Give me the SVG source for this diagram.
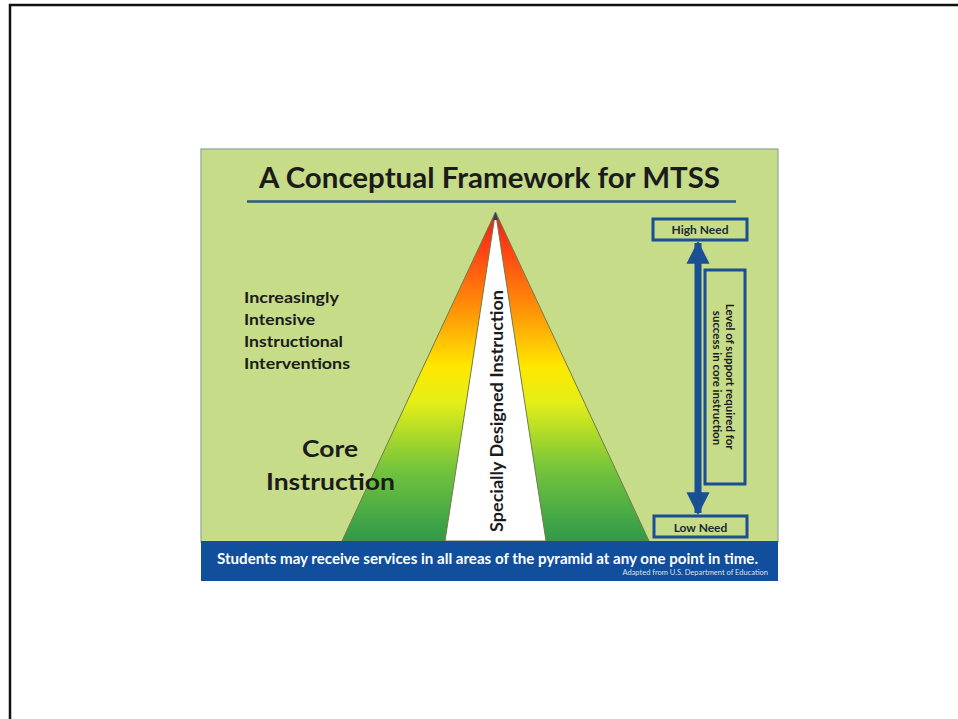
<svg xmlns="http://www.w3.org/2000/svg" width="958" height="719" viewBox="0 0 958 719">
  <defs>
    <linearGradient id="tierFill" gradientUnits="userSpaceOnUse" x1="0" y1="212" x2="0" y2="541">
      <stop offset="0" stop-color="#e61e1a"/>
      <stop offset="0.12" stop-color="#ff4513"/>
      <stop offset="0.3" stop-color="#ff9408"/>
      <stop offset="0.47" stop-color="#ffe800"/>
      <stop offset="0.58" stop-color="#e4ee18"/>
      <stop offset="0.78" stop-color="#74c43c"/>
      <stop offset="1" stop-color="#2f9a4a"/>
    </linearGradient>
    <marker id="head" viewBox="0 0 10 10" refX="9" refY="5" markerWidth="3.3" markerHeight="3.3" orient="auto-start-reverse" markerUnits="strokeWidth">
      <path d="M0,0 L10,5 L0,10 Z" fill="#1a4f96"/>
    </marker>
    <style>
      .lbl { font-family: Lato, "Liberation Sans", Arial, sans-serif; font-weight: bold; fill: #1b1b1b; }
      .box { fill: none; stroke: #1a4f96; stroke-width: 3; }
      .need { font-family: Lato, "Liberation Sans", Arial, sans-serif; font-weight: bold; font-size: 12px; fill: #1d2836; text-anchor: middle; }
    </style>
  </defs>

  <!-- page -->
  <rect x="0" y="0" width="958" height="719" fill="#ffffff"/>
  <path d="M10,719 V5 H958" fill="none" stroke="#111111" stroke-width="2.5"/>

  <!-- panel -->
  <g id="panel">
    <rect x="201" y="149" width="577" height="393" fill="#c6dc88" stroke="#8ea59e" stroke-width="1.2"/>
    <text class="lbl" x="489.5" y="188" font-size="28" text-anchor="middle" textLength="461" lengthAdjust="spacingAndGlyphs">A Conceptual Framework for MTSS</text>
    <line x1="247" y1="201.5" x2="736" y2="201.5" stroke="#2b5a86" stroke-width="2.5"/>
  </g>

  <!-- pyramid -->
  <g id="pyramid">
    <polygon points="495.5,212 342,541 649,541" fill="url(#tierFill)" stroke="#6f7d45" stroke-width="1"/>
    <polygon points="495.5,212 445,541 546,541" fill="#ffffff" stroke="#6f7d45" stroke-width="1"/>
    <path d="M495.5,212 L493,220 L498,220 Z" fill="#2d3f6a"/>
    <text class="lbl" transform="translate(503,411) rotate(-90)" font-size="16.5" fill="#222222" text-anchor="middle" textLength="242" lengthAdjust="spacingAndGlyphs">Specially Designed Instruction</text>
  </g>

  <!-- left labels -->
  <g id="interventions">
    <text class="lbl" font-size="16" x="244" y="303" textLength="95" lengthAdjust="spacingAndGlyphs">Increasingly</text>
    <text class="lbl" font-size="16" x="244" y="325" textLength="71" lengthAdjust="spacingAndGlyphs">Intensive</text>
    <text class="lbl" font-size="16" x="244" y="347" textLength="99" lengthAdjust="spacingAndGlyphs">Instructional</text>
    <text class="lbl" font-size="16" x="244" y="369" textLength="106" lengthAdjust="spacingAndGlyphs">Interventions</text>
  </g>
  <g id="core">
    <text class="lbl" font-size="23" x="302" y="457" textLength="56" lengthAdjust="spacingAndGlyphs">Core</text>
    <text class="lbl" font-size="23" x="266" y="490" textLength="129" lengthAdjust="spacingAndGlyphs">Instruction</text>
  </g>

  <!-- need scale -->
  <g id="high-need">
    <rect class="box" x="653" y="219" width="94" height="21"/>
    <text class="need" x="700" y="234">High Need</text>
  </g>
  <g id="low-need">
    <rect class="box" x="654" y="516" width="93" height="21"/>
    <text class="need" x="700.5" y="531.5">Low Need</text>
  </g>
  <g id="support-level">
    <rect class="box" x="705" y="270" width="40" height="214"/>
    <text class="lbl" font-size="11.5" fill="#1d2836" text-anchor="middle" transform="translate(726,378) rotate(90)">
      <tspan x="0" y="0">Level of support required for</tspan>
      <tspan x="0" y="13">success in core instruction</tspan>
    </text>
  </g>

  <g id="connectors">
    <line x1="698" y1="243" x2="698" y2="513" stroke="#1a4f96" stroke-width="7" marker-start="url(#head)" marker-end="url(#head)"/>
  </g>

  <!-- footer band -->
  <g id="footer">
    <rect x="201" y="541" width="577" height="40" fill="#114e9c"/>
    <text x="487.5" y="563.5" font-family="Lato, 'Liberation Sans', Arial, sans-serif" font-weight="bold" font-size="14.5" fill="#ffffff" text-anchor="middle" textLength="541" lengthAdjust="spacingAndGlyphs">Students may receive services in all areas of the pyramid at any one point in time.</text>
    <text x="768" y="575" font-family="Lato, 'Liberation Sans', Arial, sans-serif" font-size="7.5" fill="#d8e2f2" text-anchor="end">Adapted from U.S. Department of Education</text>
  </g>
</svg>
